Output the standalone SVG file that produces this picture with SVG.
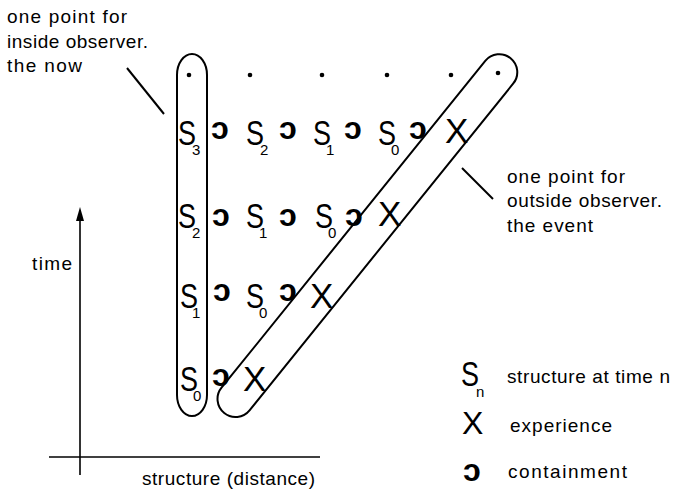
<svg xmlns="http://www.w3.org/2000/svg" width="674" height="489" viewBox="0 0 674 489">
<style>
text{font-family:"Liberation Sans","DejaVu Sans",Arial,sans-serif;fill:#000}
.lbl{font-size:19px}
.s{font-size:35px}
.sub{font-size:15px}
.x{font-size:35px}
.c{font-size:32px;font-weight:bold;text-anchor:middle}
.ln{stroke:#000;stroke-width:2;fill:none}
.dot{fill:#000}
</style>
<g id="connectors">
<line class="ln" x1="80" y1="475" x2="80" y2="220" style="stroke-width:1.6"/>
<path d="M80,207 L76,221 L84,221 Z" fill="#000"/>
<line class="ln" x1="49" y1="457" x2="320" y2="457" style="stroke-width:1.6"/>
<line class="ln" x1="127" y1="68" x2="164" y2="114"/>
<line class="ln" x1="462" y1="168" x2="493" y2="199"/>
</g>
<g id="inside-capsule">
<rect class="ln" x="177" y="54" width="30" height="362" rx="15" ry="21"/>
</g>
<g id="outside-capsule">
<rect class="ln" x="-228" y="-18" width="456" height="36" rx="18" ry="18" transform="translate(367.4,235.6) rotate(-51.1)"/>
</g>
<g id="dots">
<circle class="dot" cx="189" cy="75" r="2.3"/>
<circle class="dot" cx="250" cy="75" r="2.3"/>
<circle class="dot" cx="322" cy="75" r="2.3"/>
<circle class="dot" cx="387" cy="75" r="2.3"/>
<circle class="dot" cx="451" cy="75" r="2.3"/>
<circle class="dot" cx="498" cy="73" r="2.3"/>
</g>
<g id="row1">
<text class="s" x="178" y="145" textLength="18" lengthAdjust="spacingAndGlyphs">S</text><text class="sub" x="192" y="155">3</text>
<text class="c" x="220" y="139">ɔ</text>
<text class="s" x="246" y="145" textLength="18" lengthAdjust="spacingAndGlyphs">S</text><text class="sub" x="260" y="155">2</text>
<text class="c" x="288" y="139">ɔ</text>
<text class="s" x="313" y="145" textLength="18" lengthAdjust="spacingAndGlyphs">S</text><text class="sub" x="326" y="155">1</text>
<text class="c" x="353" y="139">ɔ</text>
<text class="s" x="378" y="145" textLength="18" lengthAdjust="spacingAndGlyphs">S</text><text class="sub" x="391" y="155">0</text>
<text class="c" x="418" y="139">ɔ</text>
<text class="x" x="445" y="143">X</text>
</g>
<g id="row2">
<text class="s" x="178" y="228" textLength="18" lengthAdjust="spacingAndGlyphs">S</text><text class="sub" x="192" y="238">2</text>
<text class="c" x="221" y="226">ɔ</text>
<text class="s" x="246" y="228" textLength="18" lengthAdjust="spacingAndGlyphs">S</text><text class="sub" x="259" y="238">1</text>
<text class="c" x="288" y="226">ɔ</text>
<text class="s" x="315" y="228" textLength="18" lengthAdjust="spacingAndGlyphs">S</text><text class="sub" x="328" y="238">0</text>
<text class="c" x="354" y="226">ɔ</text>
<text class="x" x="378" y="226">X</text>
</g>
<g id="row3">
<text class="s" x="180" y="308" textLength="18" lengthAdjust="spacingAndGlyphs">S</text><text class="sub" x="192" y="318">1</text>
<text class="c" x="222" y="301">ɔ</text>
<text class="s" x="246" y="308" textLength="18" lengthAdjust="spacingAndGlyphs">S</text><text class="sub" x="259" y="318">0</text>
<text class="c" x="288" y="301">ɔ</text>
<text class="x" x="310" y="308">X</text>
</g>
<g id="row4">
<text class="s" x="180" y="391" textLength="18" lengthAdjust="spacingAndGlyphs">S</text><text class="sub" x="193" y="401">0</text>
<text class="c" x="221" y="386">ɔ</text>
<text class="x" x="243" y="391">X</text>
</g>
<g id="label-inside">
<text class="lbl" x="7" y="23" textLength="120" lengthAdjust="spacing">one point for</text>
<text class="lbl" x="7" y="48" textLength="141" lengthAdjust="spacing">inside observer.</text>
<text class="lbl" x="7" y="72" textLength="75" lengthAdjust="spacing">the now</text>
</g>
<g id="label-outside">
<text class="lbl" x="507" y="183" textLength="118" lengthAdjust="spacing">one point for</text>
<text class="lbl" x="507" y="207" textLength="155" lengthAdjust="spacing">outside observer.</text>
<text class="lbl" x="507" y="232" textLength="86" lengthAdjust="spacing">the event</text>
</g>
<g id="axis-labels">
<text class="lbl" x="32" y="270" textLength="40" lengthAdjust="spacing">time</text>
<text class="lbl" x="142" y="485" textLength="173" lengthAdjust="spacing">structure (distance)</text>
</g>
<g id="legend">
<text class="s" x="461" y="386" textLength="18" lengthAdjust="spacingAndGlyphs">S</text><text class="sub" x="476" y="397">n</text>
<text class="lbl" x="507" y="383" textLength="163" lengthAdjust="spacing">structure at time n</text>
<text class="x" style="font-size:32px" x="462" y="434">X</text>
<text class="lbl" x="510" y="432" textLength="102" lengthAdjust="spacing">experience</text>
<text class="c" x="472" y="481">ɔ</text>
<text class="lbl" x="508" y="478" textLength="119" lengthAdjust="spacing">containment</text>
</g>
</svg>
